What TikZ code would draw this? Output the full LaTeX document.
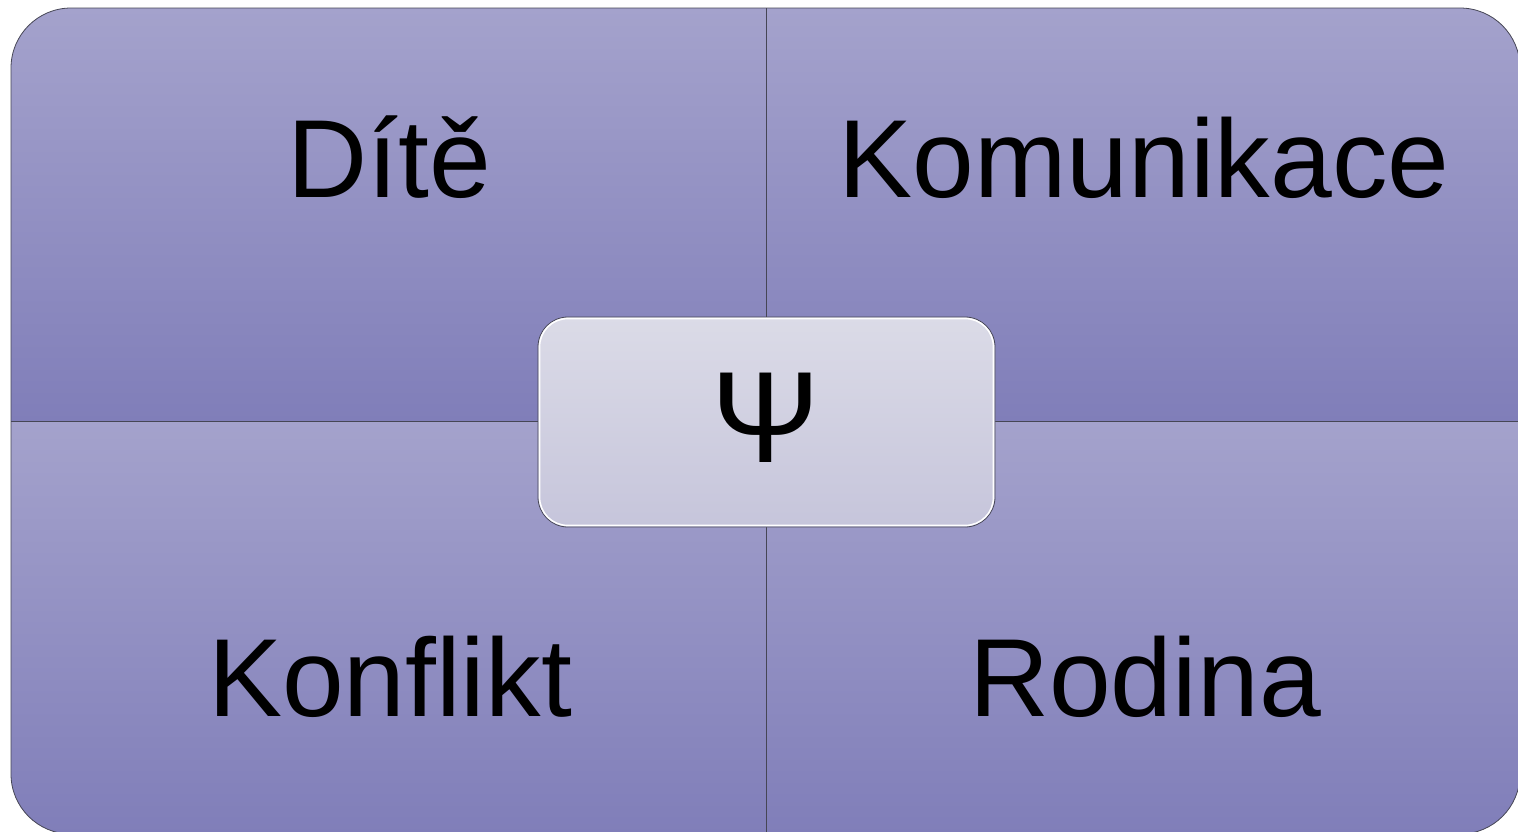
\documentclass[tikz,border=0pt]{standalone}
\usepackage{fontspec}
\setmainfont{Liberation Sans}
\usetikzlibrary{calc}
\definecolor{qtop}{RGB}{164,162,204}
\definecolor{qbot}{RGB}{128,126,185}
\definecolor{ctop}{RGB}{219,219,231}
\definecolor{cbot}{RGB}{198,197,219}
\definecolor{edge}{RGB}{70,70,85}
\tikzset{
  quad/.style={top color=qtop,bottom color=qbot},
  lbl/.style={anchor=base,inner sep=0pt,font=\fontsize{111}{120}\selectfont},
  psibox/.style={rounded corners=30pt,top color=ctop,bottom color=cbot,draw=edge,line width=0.8pt,
    minimum width=457pt,minimum height=210pt,inner sep=0pt},
}
\begin{document}
\begin{tikzpicture}[x=1pt,y=-1pt]
\useasboundingbox (0,0) rectangle (1518,831);
\begin{scope}
  \clip[rounded corners=60pt] (11,8) rectangle (1520,834);
  \shade[quad] (11,8) rectangle (766,421);
  \shade[quad] (766,8) rectangle (1520,421);
  \shade[quad] (11,421) rectangle (766,834);
  \shade[quad] (766,421) rectangle (1520,834);
\end{scope}
\draw[edge,line width=0.8pt,rounded corners=60pt] (11,8) rectangle (1520,834);
\coordinate (vtop) at (766,8);
\coordinate (vbot) at (766,834);
\coordinate (hleft) at (11,421);
\coordinate (hright) at (1520,421);
\draw[edge,line width=0.8pt] (vtop) -- (vbot);
\draw[edge,line width=0.8pt] (hleft) -- (hright);
\node[lbl] (dite) at (389,197) {Dítě};
\node[lbl] (komunikace) at (1144,197) {Komunikace};
\node[lbl] (konflikt) at (390,716) {Konflikt};
\node[lbl] (rodina) at (1145,716) {Rodina};
\node[psibox] (box) at (766.5,422) {};
\draw[white,line width=1.5pt,rounded corners=28pt] ($(box.north west)+(2,2)$) rectangle ($(box.south east)+(-2,-2)$);
\node[anchor=base,inner sep=0pt,font=\fontsize{130}{140}\selectfont] (psi) at (766,462) {Ψ};
\end{tikzpicture}
\end{document}
